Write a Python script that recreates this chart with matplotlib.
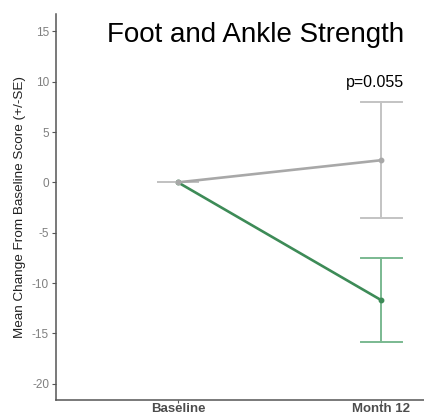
import matplotlib.pyplot as plt

plt.rcParams['font.family'] = ['Liberation Sans', 'DejaVu Sans']

# ---------- Datos ----------
visits = ["Baseline", "Month 12"]
green_mean = [0.0, -11.7]
green_lo = [0.0, -15.85]
green_hi = [0.0, -7.5]
grey_mean = [0.0, 2.2]
grey_lo = [0.0, -3.5]
grey_hi = [0.0, 7.95]
p_label = "p=0.055"
y_ticks = [-20, -15, -10, -5, 0, 5, 10, 15]

x = [1, 2]

fig = plt.figure(figsize=(4.24, 4.17), dpi=100)
ax = fig.add_axes([0.132, 0.041, 0.868, 0.925])

def draw_group(mean, lo, hi, line_col, err_col, z):
    for xi, l, h in zip(x, lo, hi):
        ax.plot([xi, xi], [l, h], color=err_col, lw=1.4, zorder=z)
        for v in (l, h):
            ax.plot([xi - 0.1, xi + 0.1], [v, v], color=err_col, lw=1.4, zorder=z)
    ax.plot(x, mean, color=line_col, lw=1.9, zorder=z + 1)
    ax.plot(x, mean, "o", color=line_col, ms=3.2, zorder=z + 1)

draw_group(green_mean, green_lo, green_hi, "#3d8b57", "#7ab990", 2)
draw_group(grey_mean, grey_lo, grey_hi, "#a8a8a8", "#c3c3c3", 4)

ax.set_xlim(0.4, 2.21)
ax.set_ylim(-21.6, 16.7)
ax.set_xticks(x)
ax.set_xticklabels(visits, fontweight="bold", color="#4d4d4d", fontsize=9.5)
ax.set_yticks(y_ticks)
ax.set_yticklabels([str(t) for t in y_ticks], color="#7f7f7f", fontsize=8.5)
ax.set_ylabel("Mean Change From Baseline Score (+/-SE)", fontsize=9.7, color="#222222", labelpad=4)

for s in ["top", "right"]:
    ax.spines[s].set_visible(False)
for s in ["left", "bottom"]:
    ax.spines[s].set_color("#555555")
    ax.spines[s].set_linewidth(1.1)
ax.tick_params(axis="y", color="#555555", length=3, width=0.8, pad=2)
ax.tick_params(axis="x", color="#555555", length=2, width=0.8, pad=0)

ax.text(2.11, 14.6, "Foot and Ankle Strength", ha="right", va="center", fontsize=20, color="black")
ax.text(2.11, 9.9, p_label, ha="right", va="center", fontsize=11.5, color="black")

plt.savefig("out.png", dpi=100)
plt.close()
